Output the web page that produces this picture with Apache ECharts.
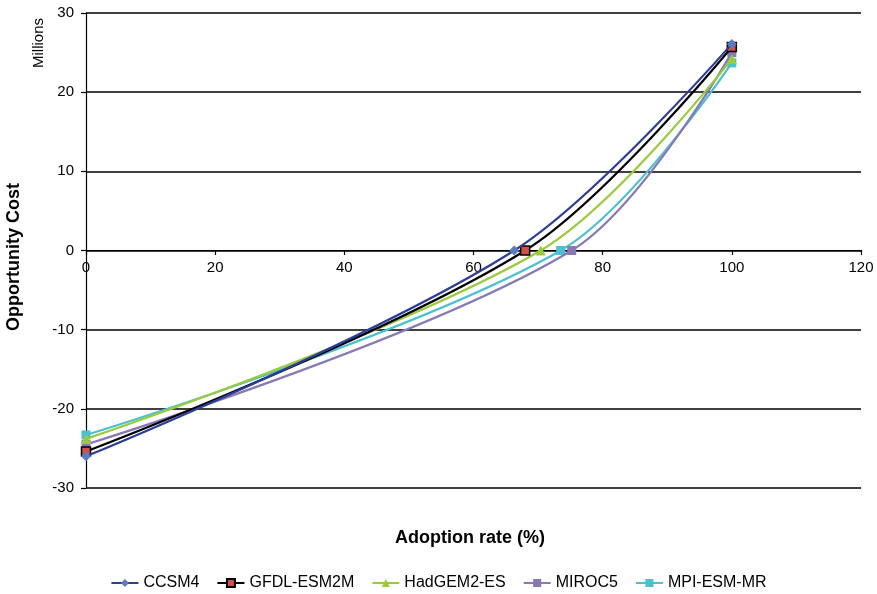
<!DOCTYPE html>
<html><head><meta charset="utf-8">
<script src="https://cdn.jsdelivr.net/npm/echarts@6/dist/echarts.min.js"></script>
<style>html,body{margin:0;padding:0;background:#fff}#c{width:877px;height:594px}</style>
</head><body><div id="c"></div>
<script>
const seriesNames = ['CCSM4','GFDL-ESM2M','HadGEM2-ES','MIROC5','MPI-ESM-MR'];
const xCCSM4 = [0, 66.3, 100];
const yCCSM4 = [-26.0, 0, 26.1];
const xGFDL = [0, 68.0, 100];
const yGFDL = [-25.4, 0, 25.7];
const xHadGEM = [0, 70.4, 100];
const yHadGEM = [-23.8, 0, 24.2];
const xMIROC = [0, 75.2, 100];
const yMIROC = [-24.5, 0, 25.0];
const xMPI = [0, 73.5, 100];
const yMPI = [-23.3, 0, 23.7];
const xTicks = [0, 20, 40, 60, 80, 100, 120];
const yTicks = [-30, -20, -10, 0, 10, 20, 30];

const pts = (xs, ys) => xs.map((x, i) => [x, ys[i]]);
const styles = [
  {line:'#2E3D98', fill:'#5B7BC0', border:'#5B7BC0', symbol:'diamond', size:10},
  {line:'#000000', fill:'#D0504A', border:'#000000', symbol:'rect', size:9},
  {line:'#9ACB3C', fill:'#9ACB3C', border:'#9ACB3C', symbol:'triangle', size:10},
  {line:'#8878B6', fill:'#8878B6', border:'#8878B6', symbol:'rect', size:9},
  {line:'#4BC0CF', fill:'#4BC0CF', border:'#4BC0CF', symbol:'rect', size:9}
];
const data = [pts(xCCSM4,yCCSM4), pts(xGFDL,yGFDL), pts(xHadGEM,yHadGEM), pts(xMIROC,yMIROC), pts(xMPI,yMPI)];

const chart = echarts.init(document.getElementById('c'));
const font = 'Liberation Sans, Arial, sans-serif';
chart.setOption({
  animation: false,
  textStyle: {fontFamily: font},
  grid: {left: 86, right: 16, top: 13, bottom: 106, outerBoundsMode: 'none', containLabel: false},
  legend: {
    top: 570, left: 'center', itemGap: 17, itemWidth: 27, itemHeight: 10,
    textStyle: {fontSize: 16, color: '#000', fontFamily: font},
    data: seriesNames
  },
  graphic: [
    {type: 'text', left: 31, top: 18, rotation: Math.PI/2,
     style: {text: 'Millions', fontSize: 15, fill: '#000', fontFamily: font}},
    {type: 'text', top: 529, left: 395,
     style: {text: 'Adoption rate (%)', fontSize: 18, fontWeight: 'bold', fill: '#000', fontFamily: font}},
    {type: 'text', left: 5, top: 183, rotation: Math.PI/2,
     style: {text: 'Opportunity Cost', fontSize: 18, fontWeight: 'bold', fill: '#000', fontFamily: font}}
  ],
  xAxis: {
    type: 'value', min: 0, max: 120, interval: 20, offset: -238,
    axisLine: {onZero: false, lineStyle: {color: '#000', width: 1.2}},
    axisTick: {show: true, length: 5, inside: false, lineStyle: {color: '#000', width: 1.2}},
    axisLabel: {fontSize: 15, color: '#000', margin: 10},
    splitLine: {show: false}
  },
  yAxis: {
    type: 'value', min: -30, max: 30, interval: 10,
    axisLine: {show: true, onZero: false, lineStyle: {color: '#000', width: 1.2}},
    axisTick: {show: true, length: 5, lineStyle: {color: '#000', width: 1.2}},
    axisLabel: {fontSize: 15, color: '#000', margin: 12},
    splitLine: {show: true, lineStyle: {color: '#000', width: 1.6}}
  },
  series: seriesNames.map((n, i) => ({
    name: n, type: 'line', data: data[i], smooth: 0.33,
    symbol: styles[i].symbol, symbolSize: styles[i].size,
    lineStyle: {color: styles[i].line, width: 2.2},
    itemStyle: {color: styles[i].fill, borderColor: styles[i].border, borderWidth: i === 1 ? 1.5 : 0},
    z: 5 - i
  }))
});
</script></body></html>
